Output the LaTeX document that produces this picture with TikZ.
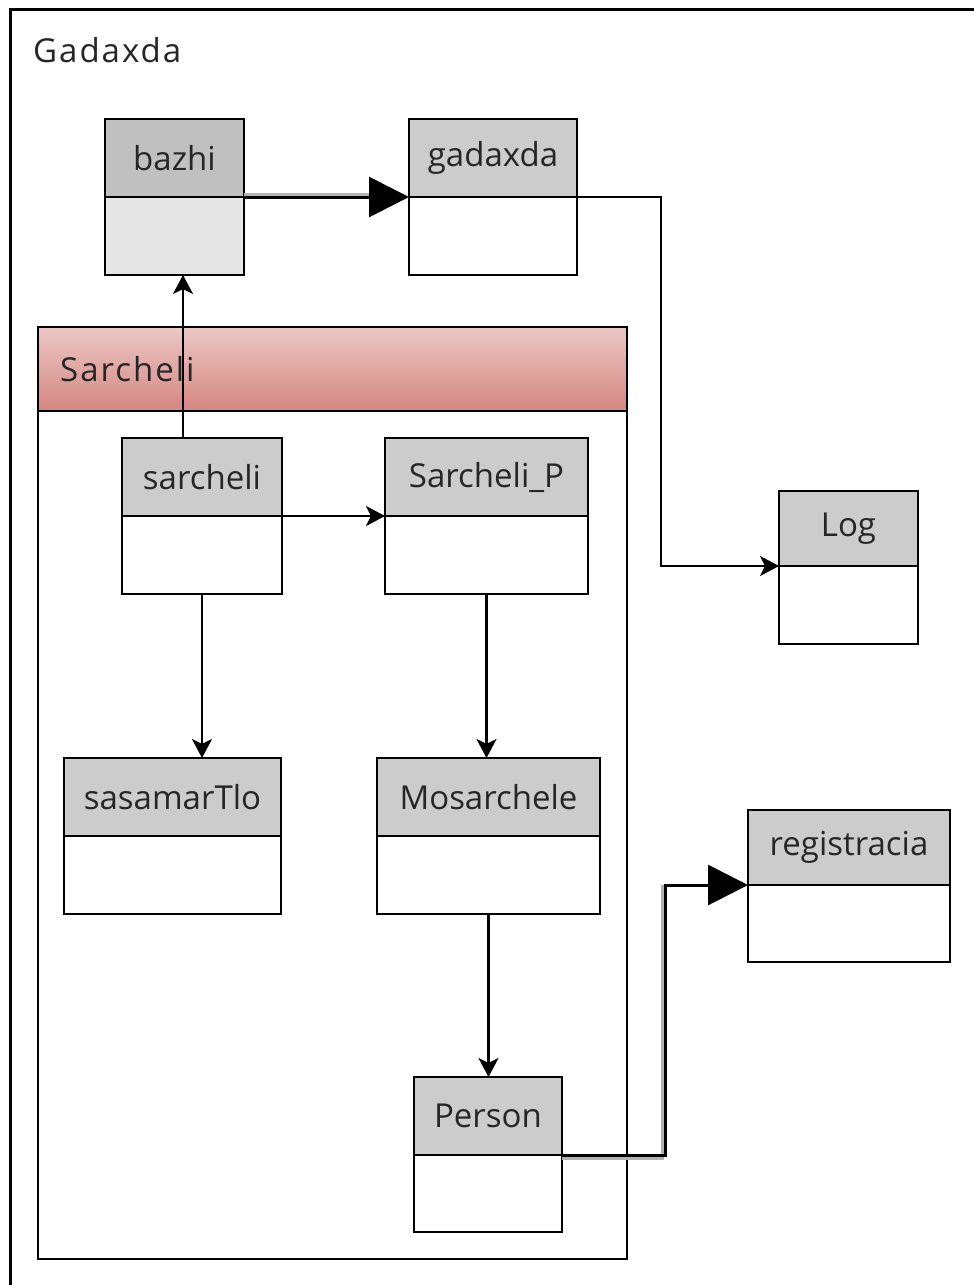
\documentclass[tikz,border=0pt]{standalone}
\usepackage{fontspec}
\setmainfont{Open Sans}
\newfontfamily\titlefont[LetterSpace=6]{Open Sans}
\usetikzlibrary{arrows.meta}
\definecolor{hdrgray}{HTML}{CCCCCC}
\definecolor{hdrdark}{HTML}{C0C0C0}
\definecolor{bodylight}{HTML}{E6E6E6}
\definecolor{pkgtop}{HTML}{ECC8C6}
\definecolor{pkgbot}{HTML}{D58680}
\definecolor{ink}{HTML}{262626}
\begin{document}
\begin{tikzpicture}[x=1pt,y=-1pt,
  box/.style={draw=black, line width=2.6pt, outer sep=0pt, inner sep=0pt, anchor=north west},
  hdr/.style={box, fill=hdrgray, text=ink, font=\fontsize{33}{38}\selectfont},
  body/.style={box, fill=white},
  title/.style={anchor=west, text=ink, inner sep=0pt, font=\titlefont\fontsize{33}{38}\selectfont},
  conn/.style={draw=black, line width=2.4pt, -{Stealth[length=19pt,width=20pt,inset=5pt]}},
  bigconn/.style={draw=black, line width=3pt, -{Triangle[length=40pt,width=40pt]}},
  shade/.style={draw=black!30, line width=3pt},
  frame/.style={draw=black, line width=3pt},
]
\clip (0,0) rectangle (974,1285);
\fill[white] (0,0) rectangle (974,1285);

% outer package frame (runs past the page on the right and bottom)
\draw[frame] (10,1300) -- (10,9) -- (990,9);
\node[title] (gadaxdaTitle) at (33,50) {Gadaxda};

% inner package Sarcheli
\node[box, minimum width=589pt, minimum height=84pt, top color=pkgtop, bottom color=pkgbot] (pkg) at (38,327) {};
\node[box, fill=none, minimum width=589pt, minimum height=848pt] (pkgbody) at (pkg.south west) {};
\node[title] (pkgTitle) at (60,369) {Sarcheli};

% classes
\node[hdr, fill=hdrdark, minimum width=139pt, minimum height=78pt] (bazhi) at (105,119) {bazhi};
\node[body, fill=bodylight, minimum width=139pt, minimum height=78pt] (bazhi-b) at (bazhi.south west) {};

\node[hdr, minimum width=168pt, minimum height=78pt] (gadaxda) at (409,119) {gadaxda};
\node[body, minimum width=168pt, minimum height=78pt] (gadaxda-b) at (gadaxda.south west) {};

\node[hdr, minimum width=139pt, minimum height=75pt] (log) at (779,491) {Log};
\node[body, minimum width=139pt, minimum height=78pt] (log-b) at (log.south west) {};

\node[hdr, minimum width=160pt, minimum height=78pt] (sarcheli) at (122,438) {sarcheli};
\node[body, minimum width=160pt, minimum height=78pt] (sarcheli-b) at (sarcheli.south west) {};

\node[hdr, minimum width=203pt, minimum height=78pt] (sarcheliP) at (385,438) {Sarcheli\_P};
\node[body, minimum width=203pt, minimum height=78pt] (sarcheliP-b) at (sarcheliP.south west) {};

\node[hdr, minimum width=217pt, minimum height=78pt] (sasam) at (64,758) {sasamarTlo};
\node[body, minimum width=217pt, minimum height=78pt] (sasam-b) at (sasam.south west) {};

\node[hdr, minimum width=223pt, minimum height=78pt] (mosar) at (377,758) {Mosarchele};
\node[body, minimum width=223pt, minimum height=78pt] (mosar-b) at (mosar.south west) {};

\node[hdr, minimum width=148pt, minimum height=78pt] (person) at (414,1077) {Person};
\node[body, minimum width=148pt, minimum height=77pt] (person-b) at (person.south west) {};

\node[hdr, minimum width=202pt, minimum height=75pt] (regis) at (748,810) {registracia};
\node[body, minimum width=202pt, minimum height=77pt] (regis-b) at (regis.south west) {};

% connectors
\coordinate (bendLog) at (661,197);
\coordinate (bendReg) at (665,1155);
\coordinate (upFrom) at (183,438);

\draw[shade] ([yshift=3pt]bazhi.south east) -- ([xshift=-38pt,yshift=3pt]gadaxda.south west);
\draw[bigconn] (bazhi.south east) -- (gadaxda.south west);

\draw[conn] (gadaxda.south east) -- (bendLog) |- (log.south west);

\draw[conn] (upFrom) -- (upFrom |- bazhi-b.south);
\draw[conn] (sarcheli.south east) -- (sarcheliP.south west);
\draw[conn] (sarcheli-b.south) -- (sarcheli-b.south |- sasam.north);
\draw[conn] (sarcheliP-b.south) -- (sarcheliP-b.south |- mosar.north);
\draw[conn] (mosar-b.south) -- (mosar-b.south |- person.north);

\draw[shade] ([yshift=-3pt]person.south east) -- ([xshift=-3pt,yshift=-3pt]bendReg)
  -- ([xshift=-3pt]bendReg |- regis.south west);
\draw[bigconn] (person.south east) -- (bendReg) |- (regis.south west);
\end{tikzpicture}
\end{document}
